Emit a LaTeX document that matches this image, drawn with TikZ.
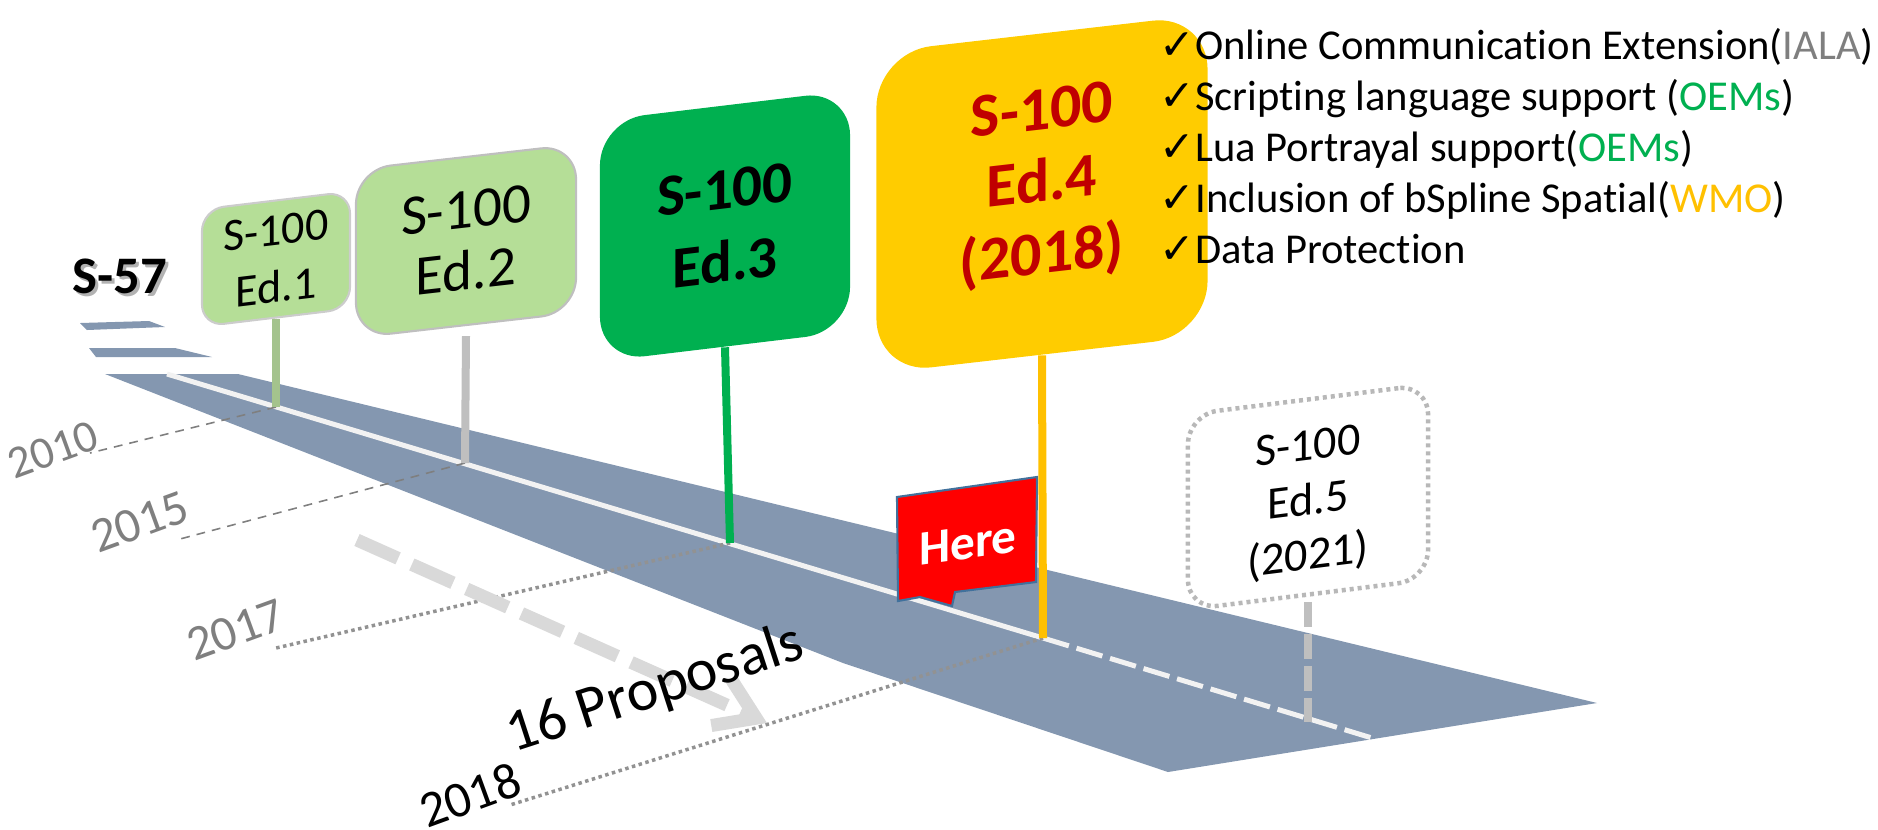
\documentclass[tikz,border=0pt]{standalone}
\usepackage{fontspec}
\setmainfont{Carlito}[Ligatures=NoCommon]
\newfontfamily\symfont{DejaVu Sans}
\usetikzlibrary{arrows.meta}
\definecolor{road}{RGB}{132,151,176}
\definecolor{lgreen}{RGB}{181,222,151}
\definecolor{mgreen}{RGB}{0,176,80}
\definecolor{gold}{RGB}{255,204,0}
\definecolor{poleyellow}{RGB}{255,192,0}
\definecolor{darkred}{RGB}{192,0,0}
\definecolor{lgrey}{RGB}{191,191,191}
\definecolor{tgrey}{RGB}{127,127,127}
\definecolor{arrowgrey}{RGB}{217,217,217}
\definecolor{flagedge}{RGB}{65,113,156}
\definecolor{linewhite}{RGB}{242,242,242}
\begin{document}
\begin{tikzpicture}[x=0.01cm,y=-0.01cm,
  signbox/.style={rounded corners=#1, transform shape, align=center, inner sep=0pt},
  pole/.style={line width=0.08cm},
  yearline/.style={draw=tgrey, line width=0.45pt, dash pattern=on 2.5pt off 2pt},
  yeardots/.style={draw=tgrey!85, line width=0.035cm, dash pattern=on 0.035cm off 0.035cm},
  yeartext/.style={rotate=20, text=tgrey, inner sep=0pt},
  checkline/.style={anchor=base west, inner sep=0pt, font=\fontsize{12.1pt}{14.5pt}\selectfont}
]
\useasboundingbox (0,0) rectangle (1878,829);

% S-57 label
\node[font=\fontsize{15pt}{17pt}\selectfont\bfseries, text=black!30] (s57s) at (123,279) {S-57};
\node[font=\fontsize{15pt}{17pt}\selectfont\bfseries] (s57) at (120,276) {S-57};

% short bars
\fill[road] (80,323) -- (149,321) -- (165,327) -- (87,330) -- cycle;
\fill[road] (89,348) -- (175,348) -- (212,357) -- (96,357) -- cycle;

% main road
\fill[road] (105,374) -- (238,374) -- (1597,703) -- (1168,772) -- (843,663) -- cycle;

% centre line
\coordinate (w0) at (167,374);
\coordinate (b1) at (276,407);
\coordinate (b2) at (465,463);
\coordinate (b3) at (730,543);
\coordinate (b4) at (1043,638);
\coordinate (wend) at (1372,738);
\draw[linewhite, line width=0.05cm] (w0) -- (b4);
\draw[linewhite, line width=0.05cm, dash pattern=on 0.27cm off 0.08cm] (b4) -- (wend);

% year lines
\coordinate (y10) at (90,453);
\coordinate (y15) at (180,539);
\coordinate (y17) at (276,648);
\coordinate (y18) at (510,805);
\draw[yearline] (b1) -- (y10);
\draw[yearline] (b2) -- (y15);
\draw[yeardots] (b3) -- (y17);
\draw[yeardots] (b4) -- (y18);

\node[yeartext, font=\fontsize{13pt}{15pt}\selectfont] (t10) at (53,450) {2010};
\node[yeartext, font=\fontsize{14pt}{16pt}\selectfont] (t15) at (140,522) {2015};
\node[yeartext, font=\fontsize{14pt}{16pt}\selectfont] (t17) at (236,630) {2017};
\node[rotate=20, inner sep=0pt, font=\fontsize{14.5pt}{17pt}\selectfont] (t18) at (470,795) {2018};

% proposals arrow
\coordinate (a0) at (357,540);
\coordinate (a1) at (767,723);
\draw[arrowgrey, line width=0.13cm, dash pattern=on 0.45cm off 0.15cm,
  -{Straight Barb[length=0.38cm, width=0.5cm]}] (a0) -- (a1);
\node[rotate=18, font=\fontsize{17pt}{20pt}\selectfont, inner sep=0pt] (prop) at (655,690) {16 Proposals};

% sign boxes
\begin{scope}[shift={(276,259)}, yslant=0.12]
  \node[signbox=0.22cm, fill=lgreen, draw=black!20, line width=0.6pt,
    minimum width=1.48cm, minimum height=1.17cm,
    font=\fontsize{13.1pt}{16.2pt}\selectfont] (e1) at (0,0) {S-100\\Ed.1};
\end{scope}
\begin{scope}[shift={(466,241)}, yslant=0.114]
  \node[signbox=0.35cm, fill=lgreen, draw=black!25, line width=0.6pt,
    minimum width=2.20cm, minimum height=1.68cm,
    font=\fontsize{16.2pt}{17.6pt}\selectfont] (e2) at (0,0) {S-100\\Ed.2};
\end{scope}
\begin{scope}[shift={(725,226)}, yslant=0.12]
  \node[signbox=0.45cm, fill=mgreen,
    minimum width=2.50cm, minimum height=2.41cm,
    font=\fontsize{16.8pt}{20.8pt}\selectfont\bfseries] (e3) at (0,0) {S-100\\Ed.3};
\end{scope}
\begin{scope}[shift={(1042,194)}, yslant=0.115]
  \node[signbox=0.55cm, fill=gold,
    minimum width=3.31cm, minimum height=3.21cm] (e4) at (0,0) {};
  \node[transform shape, align=center, inner sep=0pt, text=darkred,
    font=\fontsize{17.6pt}{20.5pt}\selectfont\bfseries] (t4) at (0,-8) {S-100\\Ed.4\\(2018)};
\end{scope}
\begin{scope}[shift={(1308,497)}, yslant=0.125]
  \node[signbox=0.30cm, fill=white, draw=black!28, line width=0.045cm,
    dash pattern=on 0.04cm off 0.04cm,
    minimum width=2.40cm, minimum height=1.95cm] (e5) at (0,0) {};
  \node[transform shape, align=center, inner sep=0pt,
    font=\fontsize{13.1pt}{15.6pt}\selectfont] (t5) at (0,6) {S-100\\Ed.5\\(2021)};
\end{scope}

% poles
\coordinate (b5) at (1308,722);
\draw[pole, lgreen!85!black!90] (e1.south) -- (b1);
\draw[pole, lgrey] ([yshift=-0.1cm]e2.south) -- (b2);
\draw[pole, mgreen] (e3.south) -- (b3);
\draw[pole, lgrey, dash pattern=on 0.25cm off 0.07cm] ([yshift=-0.05cm]e5.south) -- (b5);

% here flag
\draw[fill=red, draw=flagedge, line width=0.6pt] (897,497) -- (1037,477) -- (1036,582) -- (955,592) -- (952,606) -- (920,597) -- (898,601) -- cycle;
\begin{scope}[shift={(968,543)}, yslant=0.14]
  \node[transform shape, text=white, inner sep=0pt, font=\fontsize{14pt}{16pt}\selectfont\bfseries] (here) at (0,0) {Here};
\end{scope}
\draw[pole, poleyellow] (e4.south) -- (b4);

% checklist
\node[checkline] (c1) at (1159,59) {{\symfont ✓}Online Communication Extension(\textcolor{tgrey}{IALA})};
\node[checkline] (c2) at (1159,110) {{\symfont ✓}Scripting language support (\textcolor{mgreen}{OEMs})};
\node[checkline] (c3) at (1159,161) {{\symfont ✓}Lua Portrayal support(\textcolor{mgreen}{OEMs})};
\node[checkline] (c4) at (1159,212) {{\symfont ✓}Inclusion of bSpline Spatial(\textcolor{poleyellow}{WMO})};
\node[checkline] (c5) at (1159,263) {{\symfont ✓}Data Protection};
\end{tikzpicture}
\end{document}
